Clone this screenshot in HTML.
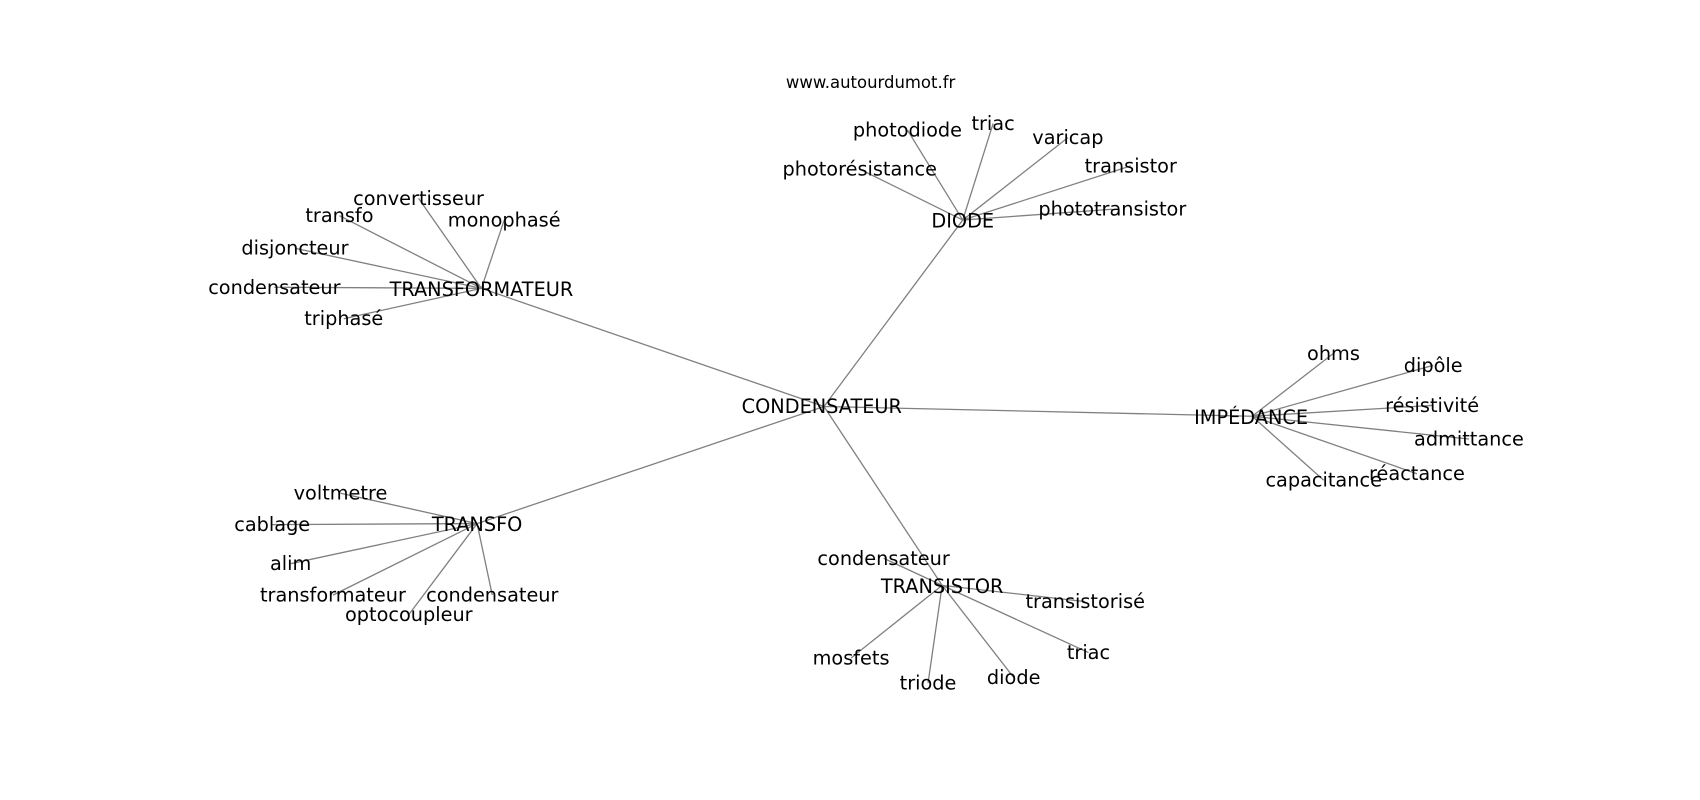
<!DOCTYPE html>
<html><head><meta charset="utf-8"><style>
html,body{margin:0;padding:0;background:#fff;width:1700px;height:800px;overflow:hidden}
svg text{font-family:"DejaVu Sans","Liberation Sans",sans-serif;font-size:17.8px;fill:#000;text-anchor:middle;dominant-baseline:central}
</style></head><body>
<svg width="1700" height="800" viewBox="0 0 1568 738" xmlns="http://www.w3.org/2000/svg">
<g stroke="#808080" stroke-width="1.2" fill="none">
<line x1="760" y1="375" x2="888" y2="203"/><line x1="760" y1="375" x2="444" y2="266"/>
<line x1="760" y1="375" x2="1155" y2="384"/><line x1="760" y1="375" x2="440" y2="483"/>
<line x1="760" y1="375" x2="869" y2="540"/>
<line x1="888" y1="203" x2="837" y2="120"/><line x1="888" y1="203" x2="916" y2="114"/>
<line x1="888" y1="203" x2="985" y2="127"/><line x1="888" y1="203" x2="1043" y2="153"/>
<line x1="888" y1="203" x2="1026" y2="193"/><line x1="888" y1="203" x2="793" y2="156"/>
<line x1="444" y1="266" x2="386" y2="183"/><line x1="444" y1="266" x2="313" y2="199"/>
<line x1="444" y1="266" x2="465" y2="203"/><line x1="444" y1="266" x2="272" y2="229"/>
<line x1="444" y1="266" x2="253" y2="265"/><line x1="444" y1="266" x2="317" y2="294"/>
<line x1="1155" y1="384" x2="1230" y2="326"/><line x1="1155" y1="384" x2="1322" y2="337"/>
<line x1="1155" y1="384" x2="1321" y2="374"/><line x1="1155" y1="384" x2="1355" y2="405"/>
<line x1="1155" y1="384" x2="1307" y2="437"/><line x1="1155" y1="384" x2="1221" y2="443"/>
<line x1="440" y1="483" x2="314" y2="455"/><line x1="440" y1="483" x2="251" y2="484"/>
<line x1="440" y1="483" x2="268" y2="520"/><line x1="440" y1="483" x2="307" y2="549"/>
<line x1="440" y1="483" x2="454" y2="549"/><line x1="440" y1="483" x2="377" y2="567"/>
<line x1="869" y1="540" x2="815" y2="515"/><line x1="869" y1="540" x2="1001" y2="555"/>
<line x1="869" y1="540" x2="1004" y2="602"/><line x1="869" y1="540" x2="935" y2="625"/>
<line x1="869" y1="540" x2="856" y2="630"/><line x1="869" y1="540" x2="785" y2="607"/>
</g>
<text x="803" y="76" style="font-size:15.2px">www.autourdumot.fr</text>
<text x="758" y="375">CONDENSATEUR</text>
<text x="888" y="204">DIODE</text>
<text x="444" y="267">TRANSFORMATEUR</text>
<text x="1154" y="385">IMPÉDANCE</text>
<text x="440" y="484">TRANSFO</text>
<text x="869" y="541">TRANSISTOR</text>
<text x="837" y="120">photodiode</text><text x="916" y="114">triac</text>
<text x="985" y="127">varicap</text><text x="1043" y="153">transistor</text>
<text x="1026" y="193">phototransistor</text><text x="793" y="156">photorésistance</text>
<text x="386" y="183">convertisseur</text><text x="313" y="199">transfo</text>
<text x="465" y="203">monophasé</text><text x="272" y="229">disjoncteur</text>
<text x="253" y="265">condensateur</text><text x="317" y="294">triphasé</text>
<text x="1230" y="326">ohms</text><text x="1322" y="337">dipôle</text>
<text x="1321" y="374">résistivité</text><text x="1355" y="405">admittance</text>
<text x="1307" y="437">réactance</text><text x="1221" y="443">capacitance</text>
<text x="314" y="455">voltmetre</text><text x="251" y="484">cablage</text>
<text x="268" y="520">alim</text><text x="307" y="549">transformateur</text>
<text x="454" y="549">condensateur</text><text x="377" y="567">optocoupleur</text>
<text x="815" y="515">condensateur</text><text x="1001" y="555">transistorisé</text>
<text x="1004" y="602">triac</text><text x="935" y="625">diode</text>
<text x="856" y="630">triode</text><text x="785" y="607">mosfets</text>
</svg>
</body></html>
